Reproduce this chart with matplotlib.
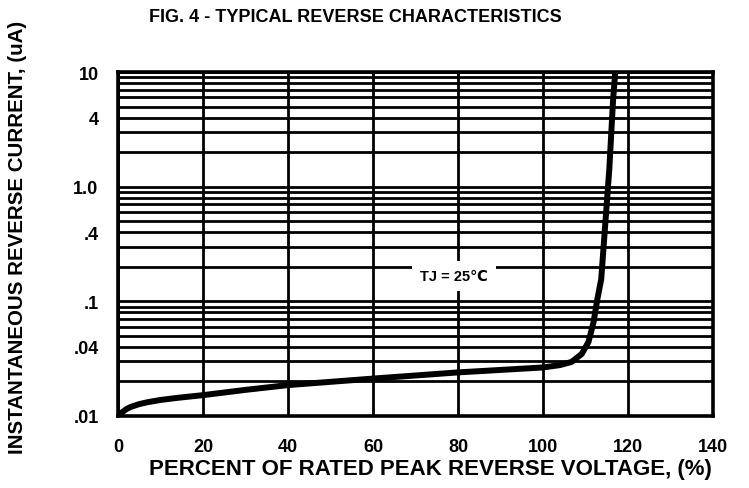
import numpy as np
import matplotlib
matplotlib.use('Agg')
import matplotlib.pyplot as plt

# curve (percent of rated PRV vs reverse current, uA)
pct = [0, 1, 2, 3, 5, 7, 10, 14, 20, 30, 40, 60, 80, 100, 104, 106.7,
       109.1, 110.7, 111.9, 112.8, 113.7, 114.2, 115.6, 116.5, 117]
cur = [0.01, 0.0108, 0.0115, 0.0120, 0.0127, 0.0132, 0.0138, 0.0144,
       0.0152, 0.0169, 0.0186, 0.0212, 0.0240, 0.0265, 0.0278, 0.0296,
       0.0347, 0.0442, 0.066, 0.105, 0.156, 0.28, 1.42, 5.8, 10]

xticks = [0, 20, 40, 60, 80, 100, 120, 140]
yticks = [0.01, 0.04, 0.1, 0.4, 1.0, 4, 10]
ylabels = ['.01', '.04', '.1', '.4', '1.0', '4', '10']

fam = ['Liberation Sans', 'DejaVu Sans']
narrow = ['Liberation Sans Narrow', 'Liberation Sans', 'DejaVu Sans']

fig = plt.figure(figsize=(7.49, 4.89), dpi=100)
ax = fig.add_axes([118/749, 1-417/489, 595/749, 344/489])

ax.set_yscale('log')
ax.set_xlim(0, 140)
ax.set_ylim(0.01, 10)

ax.plot(pct, cur, color='black', lw=4.3, solid_capstyle='butt',
        solid_joinstyle='round', zorder=5)

ax.set_xticks(xticks)
ax.set_xticklabels([str(t) for t in xticks], family=narrow,
                   fontweight='bold', fontsize=13)
ax.set_yticks(yticks)
ax.set_yticklabels(ylabels, family=narrow, fontweight='bold', fontsize=13)
ax.yaxis.set_minor_locator(matplotlib.ticker.LogLocator(base=10, subs=np.arange(2, 10)))
ax.yaxis.set_minor_formatter(matplotlib.ticker.NullFormatter())
ax.tick_params(which='both', length=0)
ax.tick_params(axis='x', pad=16)
ax.tick_params(axis='y', pad=14)

ax.grid(which='both', axis='y', color='black', lw=2.0)
ax.grid(which='major', axis='x', color='black', lw=2.0)
ax.set_axisbelow(True)
for s in ax.spines.values():
    s.set_linewidth(2.6)

ax.text(79, 0.166, 'TJ = 25\u2103', ha='center', va='center', family=fam,
        fontweight='bold', fontsize=10.5, zorder=6,
        bbox=dict(facecolor='white', edgecolor='none', pad=6))

fig.text(355/749, 1-17/489, 'FIG. 4 - TYPICAL REVERSE CHARACTERISTICS',
         ha='center', va='center', family=fam, fontweight='bold', fontsize=13)
fig.text(430/749, 1-470/489, 'PERCENT OF RATED PEAK REVERSE VOLTAGE, (%)',
         ha='center', va='center', family=fam, fontweight='bold', fontsize=16)
fig.text(18/749, 1-237/489, 'INSTANTANEOUS REVERSE CURRENT, (uA)',
         ha='center', va='center', rotation=90, family=fam,
         fontweight='bold', fontsize=14.8)

fig.savefig('out.png', dpi=100)
